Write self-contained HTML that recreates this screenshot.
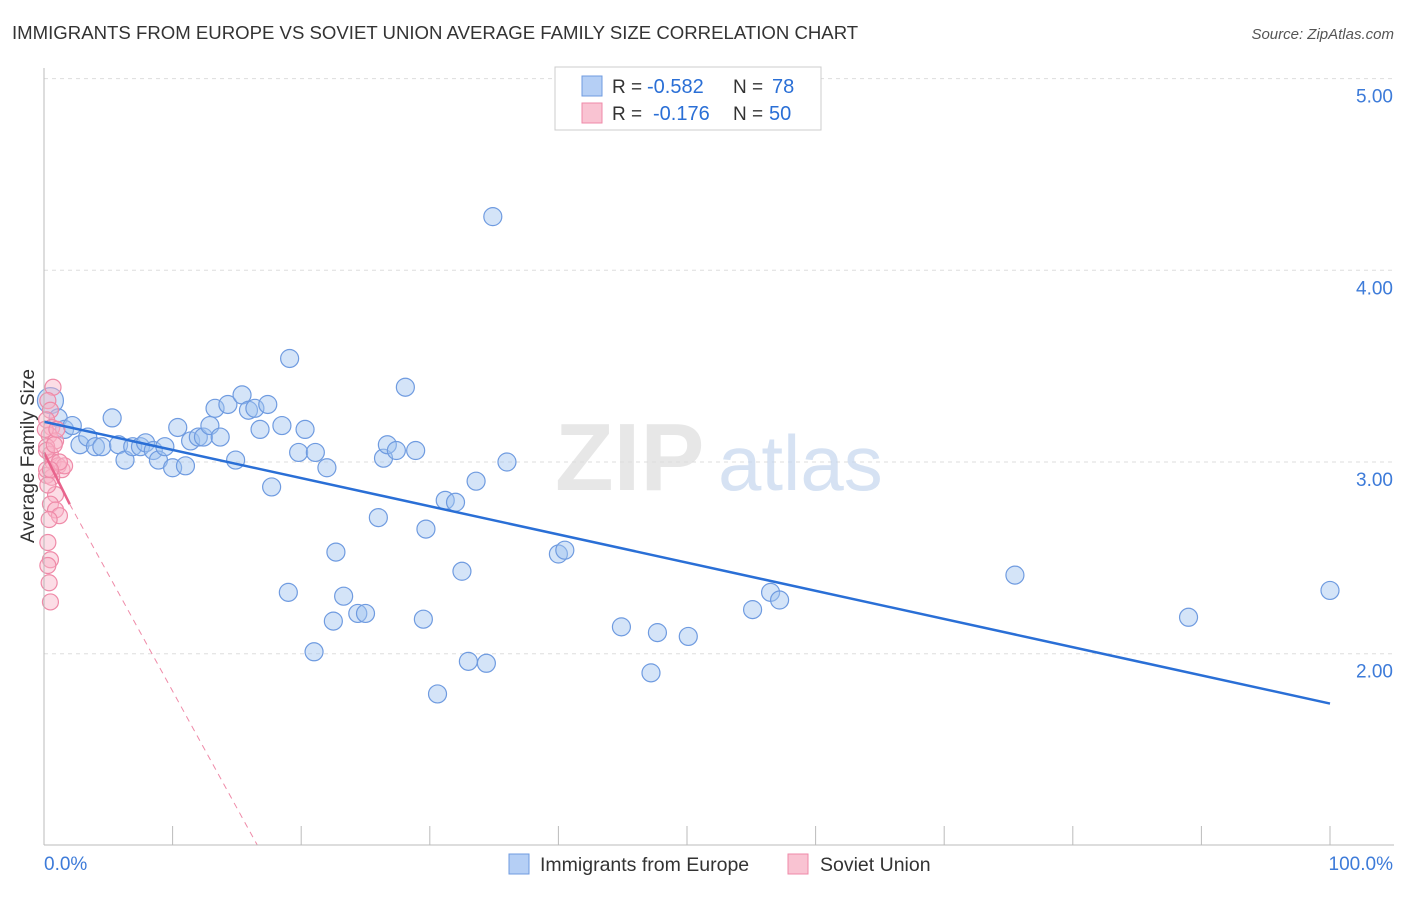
<!DOCTYPE html>
<html><head><meta charset="utf-8"><style>
body{margin:0;background:#fff;font-family:"Liberation Sans",sans-serif}
svg text{font-family:"Liberation Sans",sans-serif}
</style></head><body>
<svg id="chart" width="1406" height="892" xmlns="http://www.w3.org/2000/svg">
<text x="12" y="39" font-size="18.6" fill="#333">IMMIGRANTS FROM EUROPE VS SOVIET UNION AVERAGE FAMILY SIZE CORRELATION CHART</text>
<text x="1394" y="39" font-size="15" fill="#555" text-anchor="end" font-style="italic">Source: ZipAtlas.com</text>
<g id="grid"></g>
<text x="555" y="490" font-size="96" fill="#ddd" font-family="Liberation Serif" font-weight="bold" opacity="0.7">ZIP</text>
<text x="718" y="490" font-size="78" fill="#c5d7ee" opacity="0.7">atlas</text>
<g id="pts"></g>
<g id="axes"></g>
<text transform="translate(34,456) rotate(-90)" font-size="19" fill="#333" text-anchor="middle">Average Family Size</text>
<g>
<rect x="555" y="67" width="266" height="63" fill="#fff" stroke="#ccc"/>
<rect x="582" y="76" width="20" height="20" fill="#b5cff5" stroke="#6f9be0"/>
<rect x="582" y="103" width="20" height="20" fill="#f9c3d2" stroke="#ef8aa8"/>
<text x="612" y="93" font-size="19" fill="#333">R =</text>
<text x="647" y="93" font-size="20" fill="#2a6fd6">-0.582</text>
<text x="733" y="93" font-size="19" fill="#333">N =</text>
<text x="772" y="93" font-size="20" fill="#2a6fd6">78</text>
<text x="612" y="120" font-size="19" fill="#333">R =</text>
<text x="653" y="120" font-size="20" fill="#2a6fd6">-0.176</text>
<text x="733" y="120" font-size="19" fill="#333">N =</text>
<text x="769" y="120" font-size="20" fill="#2a6fd6">50</text>
</g>
<g>
<rect x="509" y="854" width="20" height="20" fill="#b5cff5" stroke="#6f9be0"/>
<text x="540" y="871" font-size="19.5" fill="#333">Immigrants from Europe</text>
<rect x="788" y="854" width="20" height="20" fill="#f9c3d2" stroke="#ef8aa8"/>
<text x="820" y="871" font-size="19.5" fill="#333">Soviet Union</text>
</g>
</svg>
<script>
const yTicks=[2,3,4,5];
const yTickLabels=["2.00","3.00","4.00","5.00"];
const xTickCount=10;
const blueX=[0.5,1.1,1.6,2.2,2.8,3.4,4.0,4.5,5.3,5.8,6.3,6.9,7.5,7.9,8.5,8.9,9.4,10.0,10.4,11.0,11.4,12.0,12.4,12.9,13.3,13.7,14.3,14.9,15.4,15.9,16.4,16.8,17.4,17.7,18.5,19.0,19.1,19.8,20.3,21.1,21.0,22.0,22.5,22.7,23.3,24.4,25.0,26.0,26.4,26.7,27.4,28.1,28.9,29.5,29.7,30.6,31.2,32.0,32.5,33.0,33.6,34.4,34.9,36.0,40.0,40.5,44.9,47.2,47.7,50.1,55.1,56.5,57.2,75.5,89.0,100.0];
const blueY=[3.32,3.23,3.17,3.19,3.09,3.13,3.08,3.08,3.23,3.09,3.01,3.08,3.08,3.10,3.06,3.01,3.08,2.97,3.18,2.98,3.11,3.13,3.13,3.19,3.28,3.13,3.30,3.01,3.35,3.27,3.28,3.17,3.30,2.87,3.19,2.32,3.54,3.05,3.17,3.05,2.01,2.97,2.17,2.53,2.30,2.21,2.21,2.71,3.02,3.09,3.06,3.39,3.06,2.18,2.65,1.79,2.80,2.79,2.43,1.96,2.90,1.95,4.28,3.00,2.52,2.54,2.14,1.90,2.11,2.09,2.23,2.32,2.28,2.41,2.19,2.33];
const pinkX=[0.7,0.3,0.5,0.2,0.6,0.4,0.9,0.2,0.5,0.7,1.1,1.4,1.6,0.2,0.6,0.9,0.5,0.9,1.2,0.4,0.3,0.5,0.3,0.4,0.5,0.1,0.2,0.8,1.0,0.2,0.3,1.2,0.5];
const pinkY=[3.39,3.32,3.27,3.22,3.18,3.14,3.11,3.08,3.04,3.00,2.98,2.96,2.98,2.93,2.92,2.83,2.78,2.75,2.72,2.70,2.58,2.49,2.46,2.37,2.27,3.17,3.06,3.09,3.17,2.96,2.88,3.00,2.96];
const blueTrend=[[0,3.21],[100,1.74]];
const pinkTrend=[[0,3.05],[2,2.78],[16.6,1.0]];
const NS="http://www.w3.org/2000/svg";
const X=v=>44+v*12.86, Y=v=>462-(v-3)*191.7;
function mk(t,a,p){const e=document.createElementNS(NS,t);for(const k in a)e.setAttribute(k,a[k]);p.appendChild(e);return e;}
const grid=document.getElementById('grid'),axes=document.getElementById('axes'),pts=document.getElementById('pts');
yTicks.forEach((t,i)=>{
 const l=mk('line',{x1:44,x2:1394,y1:Y(t),y2:Y(t),stroke:'#ddd','stroke-dasharray':'4,4'},grid);
 
 
 const tx=mk('text',{x:1393,y:Y(t)+24,'font-size':19,fill:'#3d7bd9','text-anchor':'end'},axes);
 tx.textContent=yTickLabels[i];
 
 
});
mk('line',{x1:44,x2:44,y1:68,y2:845,stroke:'#bbb'},axes);
mk('line',{x1:44,x2:1394,y1:845,y2:845,stroke:'#bbb'},axes);
for(let i=0;i<=xTickCount;i++){const l=mk('line',{x1:X(i*10),x2:X(i*10),y1:826,y2:845,stroke:'#bbb'},axes);
 
 }
let t0=mk('text',{x:44,y:870,'font-size':19,fill:'#3d7bd9'},axes);t0.textContent='0.0%';


let t1=mk('text',{x:1393,y:870,'font-size':19,fill:'#3d7bd9','text-anchor':'end'},axes);t1.textContent='100.0%';


blueX.forEach((x,i)=>{const c=mk('circle',{cx:X(x),cy:Y(blueY[i]),r:i==0?13:9,fill:'rgba(160,195,240,0.45)',stroke:'#6f9be0','stroke-width':1.2},pts);
 
 });
pinkX.forEach((x,i)=>{const c=mk('circle',{cx:X(x),cy:Y(pinkY[i]),r:8,fill:'rgba(248,180,200,0.45)',stroke:'#ef8aa8','stroke-width':1.2},pts);
 
 });
const bl=mk('line',{x1:X(blueTrend[0][0]),y1:Y(blueTrend[0][1]),x2:X(blueTrend[1][0]),y2:Y(blueTrend[1][1]),stroke:'#2a6fd6','stroke-width':2.5},pts);


const pl=mk('line',{x1:X(pinkTrend[0][0]),y1:Y(pinkTrend[0][1]),x2:X(pinkTrend[1][0]),y2:Y(pinkTrend[1][1]),stroke:'#e8638c','stroke-width':2.5},pts);


const pd=mk('line',{x1:X(pinkTrend[1][0]),y1:Y(pinkTrend[1][1]),x2:X(pinkTrend[2][0]),y2:Y(pinkTrend[2][1]),stroke:'#ef8aa8','stroke-width':1,'stroke-dasharray':'6,5'},pts);


</script>
</body></html>
